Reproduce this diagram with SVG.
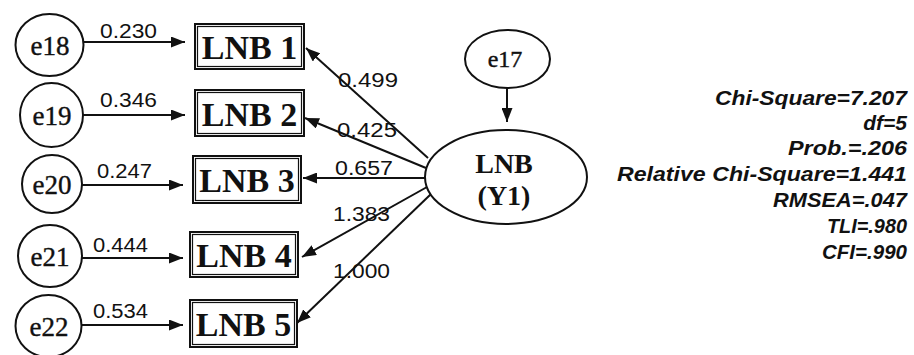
<svg xmlns="http://www.w3.org/2000/svg" width="914" height="355" viewBox="0 0 914 355">
<style>
.bg{fill:#ffffff}
.node{fill:#ffffff;stroke:#111;stroke-width:2}
.box{fill:#ffffff;stroke:#111;stroke-width:2}
.inner{fill:none;stroke:#111;stroke-width:1.2}
.etxt{font-family:"Liberation Serif","Times New Roman",serif;font-size:27px;fill:#111;text-anchor:middle;stroke:#111;stroke-width:0.4}
.btxt{font-family:"Liberation Serif","Times New Roman",serif;font-size:34px;font-weight:bold;fill:#111;text-anchor:middle}
.ltxt{font-family:"Liberation Serif","Times New Roman",serif;font-size:28px;font-weight:bold;fill:#111;text-anchor:middle}
.conn line{stroke:#111;stroke-width:2;marker-end:url(#ah)}
.lbl{font-family:"Liberation Sans",Arial,sans-serif;font-size:20px;fill:#111}
.fit{font-family:"Liberation Sans",Arial,sans-serif;font-size:21px;font-weight:bold;font-style:italic;fill:#111;text-anchor:end}
</style>
<defs>
<marker id="ah" viewBox="0 0 14 11" refX="14" refY="5.5" markerWidth="14" markerHeight="11" orient="auto" markerUnits="userSpaceOnUse">
<path d="M0,0 L14,5.5 L0,11 z" fill="#111"/>
</marker>
</defs>
<rect class="bg" x="0" y="0" width="914" height="355"/>

<g id="connectors" class="conn">
<line x1="83" y1="42" x2="185" y2="42"/>
<line x1="83" y1="115" x2="185" y2="115"/>
<line x1="82" y1="185" x2="183" y2="185"/>
<line x1="82" y1="258" x2="183" y2="258"/>
<line x1="81" y1="325" x2="183" y2="325"/>
<line x1="507" y1="88" x2="507" y2="122"/>
<line x1="428" y1="158" x2="306" y2="48"/>
<line x1="426" y1="168" x2="305" y2="118"/>
<line x1="425" y1="178" x2="303" y2="178"/>
<line x1="427" y1="187" x2="302" y2="257"/>
<line x1="431" y1="194" x2="297" y2="323"/>
</g>

<g id="edge-labels">
<text class="lbl" x="100" y="38" textLength="57" lengthAdjust="spacingAndGlyphs">0.230</text>
<text class="lbl" x="100" y="107" textLength="57" lengthAdjust="spacingAndGlyphs">0.346</text>
<text class="lbl" x="97" y="178" textLength="55" lengthAdjust="spacingAndGlyphs">0.247</text>
<text class="lbl" x="93" y="252" textLength="55" lengthAdjust="spacingAndGlyphs">0.444</text>
<text class="lbl" x="93" y="318" textLength="55" lengthAdjust="spacingAndGlyphs">0.534</text>
<text class="lbl" x="338" y="87" textLength="60" lengthAdjust="spacingAndGlyphs">0.499</text>
<text class="lbl" x="337" y="137" textLength="60" lengthAdjust="spacingAndGlyphs">0.425</text>
<text class="lbl" x="335" y="175" textLength="58" lengthAdjust="spacingAndGlyphs">0.657</text>
<text class="lbl" x="333" y="221" textLength="57" lengthAdjust="spacingAndGlyphs">1.383</text>
<text class="lbl" x="333" y="278" textLength="57" lengthAdjust="spacingAndGlyphs">1.000</text>
</g>

<g id="e18"><ellipse class="node" cx="49.5" cy="45" rx="34" ry="31"/><text class="etxt" x="50" y="55">e18</text></g>
<g id="e19"><ellipse class="node" cx="51.5" cy="115" rx="31.5" ry="32"/><text class="etxt" x="52" y="125">e19</text></g>
<g id="e20"><ellipse class="node" cx="52" cy="184" rx="30" ry="29"/><text class="etxt" x="52" y="194">e20</text></g>
<g id="e21"><ellipse class="node" cx="50" cy="256" rx="32" ry="31"/><text class="etxt" x="50" y="266">e21</text></g>
<g id="e22"><ellipse class="node" cx="48.5" cy="326" rx="33" ry="31"/><text class="etxt" x="49" y="336">e22</text></g>

<g id="LNB1"><rect class="box" x="195" y="24" width="109" height="45"/><rect class="inner" x="197.5" y="26.5" width="104" height="40"/><text class="btxt" x="249.5" y="59">LNB 1</text></g>
<g id="LNB2"><rect class="box" x="195" y="90" width="109" height="46"/><rect class="inner" x="197.5" y="92.5" width="104" height="41"/><text class="btxt" x="249.5" y="126">LNB 2</text></g>
<g id="LNB3"><rect class="box" x="193" y="156" width="108" height="47"/><rect class="inner" x="195.5" y="158.5" width="103" height="42"/><text class="btxt" x="247" y="192">LNB 3</text></g>
<g id="LNB4"><rect class="box" x="190" y="232" width="108" height="45"/><rect class="inner" x="192.5" y="234.5" width="103" height="40"/><text class="btxt" x="244" y="267">LNB 4</text></g>
<g id="LNB5"><rect class="box" x="190" y="300" width="107" height="47"/><rect class="inner" x="192.5" y="302.5" width="102" height="42"/><text class="btxt" x="243.5" y="336">LNB 5</text></g>

<g id="e17"><ellipse class="node" cx="507.5" cy="59" rx="42.5" ry="29"/><text class="etxt" style="font-size:24px" x="505" y="67">e17</text></g>

<g id="LNBY1"><ellipse class="node" cx="506" cy="177" rx="81" ry="47"/><text class="ltxt" x="504" y="173">LNB</text><text class="ltxt" x="504" y="205">(Y1)</text></g>

<g id="fit-stats">
<text class="fit" x="907" y="105" textLength="192" lengthAdjust="spacingAndGlyphs">Chi-Square=7.207</text>
<text class="fit" x="907" y="130">df=5</text>
<text class="fit" x="907" y="155" textLength="119" lengthAdjust="spacingAndGlyphs">Prob.=.206</text>
<text class="fit" x="907" y="181" textLength="290" lengthAdjust="spacingAndGlyphs">Relative Chi-Square=1.441</text>
<text class="fit" x="907" y="207" textLength="134" lengthAdjust="spacingAndGlyphs">RMSEA=.047</text>
<text class="fit" x="907" y="233" textLength="80" lengthAdjust="spacingAndGlyphs">TLI=.980</text>
<text class="fit" x="907" y="259" textLength="85" lengthAdjust="spacingAndGlyphs">CFI=.990</text>
</g>
</svg>
